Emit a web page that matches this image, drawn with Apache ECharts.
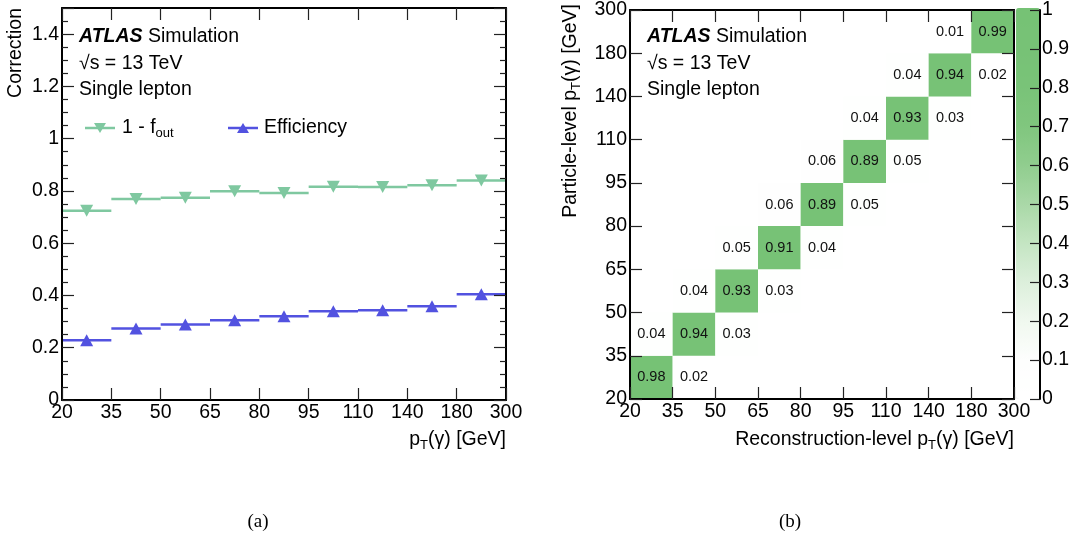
<!DOCTYPE html>
<html><head><meta charset="utf-8">
<script src="https://cdn.jsdelivr.net/npm/echarts@6/dist/echarts.min.js"></script>
<style>html,body{margin:0;padding:0;background:#fff}#c{width:1081px;height:547px}</style>
</head><body><div id="c"></div>
<script>
// ---- data ----
const binEdges = ['20','35','50','65','80','95','110','140','180','300'];
const oneMinusFout = [0.724, 0.769, 0.774, 0.799, 0.792, 0.816, 0.815, 0.822, 0.840];
const efficiency = [0.229, 0.274, 0.289, 0.305, 0.320, 0.340, 0.343, 0.359, 0.405];
// [reco bin, particle bin, fraction]
const migration = [
  [0,0,0.98],[1,0,0.02],
  [0,1,0.04],[1,1,0.94],[2,1,0.03],
  [1,2,0.04],[2,2,0.93],[3,2,0.03],
  [2,3,0.05],[3,3,0.91],[4,3,0.04],
  [3,4,0.06],[4,4,0.89],[5,4,0.05],
  [4,5,0.06],[5,5,0.89],[6,5,0.05],
  [5,6,0.04],[6,6,0.93],[7,6,0.03],
  [6,7,0.04],[7,7,0.94],[8,7,0.02],
  [7,8,0.01],[8,8,0.99]
];
const paletteStops = ['#ffffff','#fdfefd','#f0f8ef','#dcefdb','#c4e5c2','#a9d8a7','#90cd8e','#80c67e','#79c378','#77c276','#76c275'];

const FONT = '"Liberation Sans", Arial, Helvetica, sans-serif';
const FS = 19.5;
const GREEN = '#7fc8a0', BLUE = '#5252e0';
const chart = echarts.init(document.getElementById('c'));

function baseAxis(extra) {
  return Object.assign({
    type: 'value', z: 10,
    axisLine: { show: true, onZero: false, lineStyle: { color: '#000', width: 2 } },
    axisTick: { show: true, inside: true, length: 12, lineStyle: { color: '#222', width: 1.2 } },
    axisLabel: { show: false, color: '#000', fontSize: FS, fontFamily: FONT, margin: 3 },
    splitLine: { show: false }
  }, extra);
}
const edgeFmt = v => binEdges[Math.round(v)] || '';
const numFmt = v => (Math.abs(v - Math.round(v)) < 1e-9 ? String(Math.round(v)) : v.toFixed(1));
const lbl = (margin, fmt, more) => Object.assign({ show: true, color: '#000', fontSize: FS, fontFamily: FONT, margin: margin, formatter: fmt }, more || {});

const xAxes = [
  baseAxis({ gridIndex: 0, position: 'bottom', min: 0, max: 9, interval: 1, axisLabel: lbl(3, edgeFmt) }),
  baseAxis({ gridIndex: 0, position: 'top', min: 0, max: 9, interval: 1 }),
  baseAxis({ gridIndex: 1, position: 'bottom', min: 0, max: 9, interval: 1, axisLabel: lbl(3, edgeFmt) }),
  baseAxis({ gridIndex: 1, position: 'top', min: 0, max: 9, interval: 1 }),
  { type: 'value', gridIndex: 2, show: false, min: 0, max: 1 }
];
const minor = { show: true, splitNumber: 4, length: 6, lineStyle: { color: '#222', width: 1.2 } };
const yAxes = [
  baseAxis({ gridIndex: 0, position: 'left', min: 0, max: 1.5, interval: 0.2, minorTick: minor,
    axisLabel: lbl(3, numFmt, { showMaxLabel: false }) }),
  baseAxis({ gridIndex: 0, position: 'right', min: 0, max: 1.5, interval: 0.2, minorTick: minor }),
  baseAxis({ gridIndex: 1, position: 'left', min: 0, max: 9, interval: 1, axisLabel: lbl(3, edgeFmt) }),
  baseAxis({ gridIndex: 1, position: 'right', min: 0, max: 9, interval: 1 }),
  baseAxis({ gridIndex: 2, position: 'right', min: 0, max: 1, interval: 0.1,
    axisTick: { show: true, inside: true, length: 10, lineStyle: { color: '#222', width: 1.2 } },
    axisLabel: lbl(2, numFmt) })
];

function stepSeries(values, color) {
  return {
    type: 'custom', xAxisIndex: 0, yAxisIndex: 0, z: 3,
    data: values.map((v, i) => [i, v]),
    renderItem: (params, api) => {
      const i = api.value(0), v = api.value(1);
      const a = api.coord([i, v]), b = api.coord([i + 1, v]);
      return { type: 'line', shape: { x1: a[0], y1: a[1], x2: b[0], y2: b[1] },
        style: { stroke: color, lineWidth: 2.5 } };
    }
  };
}
function markerSeries(values, color, rot) {
  return {
    type: 'scatter', xAxisIndex: 0, yAxisIndex: 0, z: 4,
    symbol: 'triangle', symbolRotate: rot, symbolSize: [13, 12],
    itemStyle: { color: color, opacity: 1 },
    data: values.map((v, i) => [i + 0.5, v])
  };
}

const rich = {
  n: { fontSize: FS, fontFamily: FONT, fill: '#000', lineHeight: 24 },
  s: { fontSize: 13, fontFamily: FONT, fill: '#000', lineHeight: 24, padding: [11, 0, 0, 0] },
  a: { fontSize: FS, fontFamily: FONT, fill: '#000', fontWeight: 'bold', fontStyle: 'italic', lineHeight: 24 }
};
function txt(x, y, text, opts) {
  return Object.assign({ type: 'text', x: x, y: y, z: 20,
    style: Object.assign({ text: text, rich: rich, font: FS + 'px ' + FONT, fill: '#000',
      align: 'left', verticalAlign: 'middle' }, (opts && opts.style) || {}) },
    (opts && opts.el) || {});
}
const serif = '19px "Liberation Serif", "Times New Roman", serif';

const graphics = [
  txt(79, 37, '{a|ATLAS}{n| Simulation}'),
  txt(79, 64, '{n|√s = 13 TeV}'),
  txt(79, 90, '{n|Single lepton}'),
  txt(647, 37, '{a|ATLAS}{n| Simulation}'),
  txt(647, 64, '{n|√s = 13 TeV}'),
  txt(647, 90, '{n|Single lepton}'),
  // legend
  { type: 'line', z: 20, shape: { x1: 85, y1: 128, x2: 115, y2: 128 }, style: { stroke: GREEN, lineWidth: 2.5 } },
  { type: 'polygon', z: 21, shape: { points: [[94, 123], [106, 123], [100, 133]] }, style: { fill: GREEN } },
  txt(122, 128, '{n|1 - f}{s|out}'),
  { type: 'line', z: 20, shape: { x1: 228, y1: 128, x2: 258, y2: 128 }, style: { stroke: BLUE, lineWidth: 2.5 } },
  { type: 'polygon', z: 21, shape: { points: [[237, 133], [249, 133], [243, 123]] }, style: { fill: BLUE } },
  txt(264, 128, '{n|Efficiency}'),
  // axis titles
  txt(16, 8, '{n|Correction}', { el: { rotation: Math.PI / 2 }, style: { align: 'right' } }),
  txt(506, 440, '{n|p}{s|T}{n|(γ) [GeV]}', { style: { align: 'right' } }),
  txt(1014, 440, '{n|Reconstruction-level p}{s|T}{n|(γ) [GeV]}', { style: { align: 'right' } }),
  txt(571, 4, '{n|Particle-level p}{s|T}{n|(γ) [GeV]}', { el: { rotation: Math.PI / 2 }, style: { align: 'right' } }),
  // panel labels
  { type: 'text', x: 258, y: 522, style: { text: '(a)', font: serif, fill: '#000', align: 'center', verticalAlign: 'middle' } },
  { type: 'text', x: 790, y: 522, style: { text: '(b)', font: serif, fill: '#000', align: 'center', verticalAlign: 'middle' } }
];

chart.setOption({
  animation: false,
  backgroundColor: '#fff',
  grid: [
    { left: 62, top: 8, width: 444, height: 392 },
    { left: 630, top: 8, width: 384, height: 391 },
    { left: 1016, top: 8, width: 24, height: 391 }
  ],
  xAxis: xAxes,
  yAxis: yAxes,
  visualMap: {
    type: 'continuous', min: 0, max: 1, seriesIndex: 4, dimension: 2,
    orient: 'vertical', left: 1016, top: 8, itemWidth: 24, itemHeight: 391,
    padding: 0, calculable: false, text: null, showLabel: false, hoverLink: false,
    inRange: { color: paletteStops }
  },
  series: [
    stepSeries(oneMinusFout, GREEN),
    stepSeries(efficiency, BLUE),
    markerSeries(oneMinusFout, GREEN, 180),
    markerSeries(efficiency, BLUE, 0),
    {
      type: 'custom', xAxisIndex: 2, yAxisIndex: 2, z: 2,
      data: migration,
      renderItem: (params, api) => {
        const x = api.value(0), y = api.value(1), v = api.value(2);
        const p0 = api.coord([x, y + 1]), p1 = api.coord([x + 1, y]);
        return { type: 'group', children: [
          { type: 'rect', shape: { x: p0[0], y: p0[1], width: p1[0] - p0[0], height: p1[1] - p0[1] },
            style: { fill: api.visual('color') } },
          { type: 'text', x: (p0[0] + p1[0]) / 2, y: (p0[1] + p1[1]) / 2,
            style: { text: v.toFixed(2), font: '14.5px ' + FONT, fill: '#111', align: 'center', verticalAlign: 'middle' } }
        ] };
      }
    }
  ],
  graphic: graphics
});
</script>
</body></html>
